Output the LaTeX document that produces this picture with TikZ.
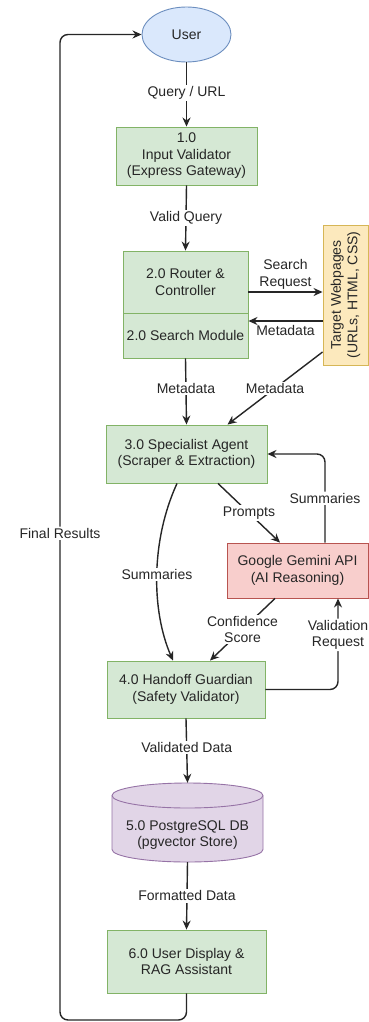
\documentclass[tikz,border=0pt]{standalone}
\usepackage{fontspec}
\setmainfont{Liberation Sans}
\usetikzlibrary{arrows.meta,calc,shapes.geometric}
\definecolor{gfill}{HTML}{D5E8D4}
\definecolor{gline}{HTML}{82B366}
\definecolor{bfill}{HTML}{DAE8FC}
\definecolor{bline}{HTML}{6C8EBF}
\definecolor{ofill}{HTML}{FCE9BD}
\definecolor{oline}{HTML}{D6B656}
\definecolor{rfill}{HTML}{F8CECC}
\definecolor{rline}{HTML}{B85450}
\definecolor{pfill}{HTML}{E1D5E7}
\definecolor{pline}{HTML}{9673A6}
\definecolor{ink}{HTML}{262626}
\tikzset{
  every node/.style={font=\fontsize{14}{16.5}\selectfont, text=ink},
  gbox/.style={draw=gline, fill=gfill, line width=0.9pt, align=center, inner sep=0pt},
  arr/.style={draw=ink, line width=1.4pt, -{Stealth[length=9pt,width=8pt]}},
  lbl/.style={fill=white, align=center, inner sep=1.5pt},
}
\begin{document}
\begin{tikzpicture}[x=1pt,y=-1pt]
\useasboundingbox (0,0) rectangle (368,1022);
\fill[white] (0,0) rectangle (368,1022);

% nodes
\node[ellipse, draw=bline, fill=bfill, line width=0.9pt, minimum width=89pt, minimum height=55pt, inner sep=0pt] (user) at (186.5,34.5) {User};
\node[gbox, minimum width=141pt, minimum height=58pt] (b1) at (186.5,156) {1.0\\Input Validator\\(Express Gateway)};
\node[gbox, minimum width=125pt, minimum height=62pt] (b2top) at (185.5,282) {2.0 Router \&\\Controller};
\node[gbox, minimum width=125pt, minimum height=45pt] (b2bot) at (185.5,335.5) {2.0 Search Module};
\node[draw=oline, fill=ofill, line width=0.9pt, minimum width=45pt, minimum height=140pt, inner sep=0pt] (target) at (345.5,295) {};
\node[rotate=90, align=center, inner sep=0pt] (targettext) at (target.center) {Target Webpages\\(URLs, HTML, CSS)};
\node[gbox, minimum width=161pt, minimum height=58pt] (b3) at (186.5,454) {3.0 Specialist Agent\\(Scraper \& Extraction)};
\node[draw=rline, fill=rfill, line width=0.9pt, minimum width=141pt, minimum height=55pt, align=center, inner sep=0pt] (gem) at (297.5,570.5) {Google Gemini API\\(AI Reasoning)};
\node[gbox, minimum width=158pt, minimum height=57pt] (b4) at (186,689.5) {4.0 Handoff Guardian\\(Safety Validator)};

% database cylinder
\draw[draw=pline, fill=pfill, line width=0.9pt]
  (112,795.5) -- (112,849.5) arc (180:360:75.5pt and 12.5pt) -- (263,795.5) arc (0:180:75.5pt and 12.5pt) -- cycle;
\draw[draw=pline, line width=0.9pt] (112,795.5) arc (180:360:75.5pt and 12.5pt);
\node[minimum width=151pt, minimum height=79pt, inner sep=0pt] (db) at (187.5,822.5) {};
\node[align=center, inner sep=0pt] (dbtext) at (187.5,835) {5.0 PostgreSQL DB\\(pgvector Store)};

\node[gbox, minimum width=159pt, minimum height=63pt] (b6) at (186.5,961.5) {6.0 User Display \&\\RAG Assistant};

% helper coordinates
\coordinate (s1) at ($(b2top.east)+(0,10)$);
\coordinate (m1) at ($(target.west)+(0,26)$);
\coordinate (d1) at ($(target.west)+(0,57)$);
\coordinate (d2) at ($(b3.north)+(41,0)$);
\coordinate (p1) at ($(b3.south)+(31.5,0)$);
\coordinate (p2) at ($(gem.north)+(-17.5,0)$);
\coordinate (g1) at ($(gem.north)+(27.5,0)$);
\coordinate (c1) at ($(b3.south)+(-9.5,0)$);
\coordinate (c2) at ($(b4.north)+(-13,0)$);
\coordinate (k1) at ($(gem.south)+(-22.5,0)$);
\coordinate (k2) at ($(b4.north)+(24,0)$);
\coordinate (v1) at ($(gem.south)+(40.5,0)$);
\coordinate (lb) at (60,1020);
\coordinate (lt) at (60,34.5);

% connectors
\draw[arr] (user.south) -- node[lbl, pos=0.48] {Query / URL} (b1.north);
\draw[arr] (b1.south) -- node[lbl] {Valid Query} (b2top.north);
\draw[arr] (s1) -- node[above=1pt, align=center, inner sep=1pt] {Search\\Request} (s1 -| target.west);
\draw[arr] (m1) -- node[below=3pt, inner sep=1pt] {Metadata} (m1 -| b2bot.east);
\draw[arr] (b2bot.south) -- node[lbl, pos=0.45] {Metadata} (b3.north);
\draw[arr] (d1) -- node[lbl] {Metadata} (d2);
\draw[arr] (p1) -- node[lbl] {Prompts} (p2);
\draw[arr, rounded corners=8pt] (g1) |- node[lbl, pos=0.25] {Summaries} (b3.east);
\draw[arr] (c1) .. controls (151,540) and (151,610) .. node[lbl, pos=0.5] {Summaries} (c2);
\draw[arr] (k1) -- node[lbl] {Confidence\\Score} (k2);
\draw[arr, rounded corners=8pt] (b4.east) -| node[lbl, pos=0.8] {Validation\\Request} (v1);
\draw[arr] (b4.south) -- node[lbl, pos=0.45] {Validated Data} (db.north);
\draw[arr] (db.south) -- node[lbl] {Formatted Data} (b6.north);
\draw[arr, rounded corners=8pt] (b6.south) |- (lb) -- node[lbl, pos=0.494] {Final Results} (lt) -- (user.west);
\end{tikzpicture}
\end{document}
